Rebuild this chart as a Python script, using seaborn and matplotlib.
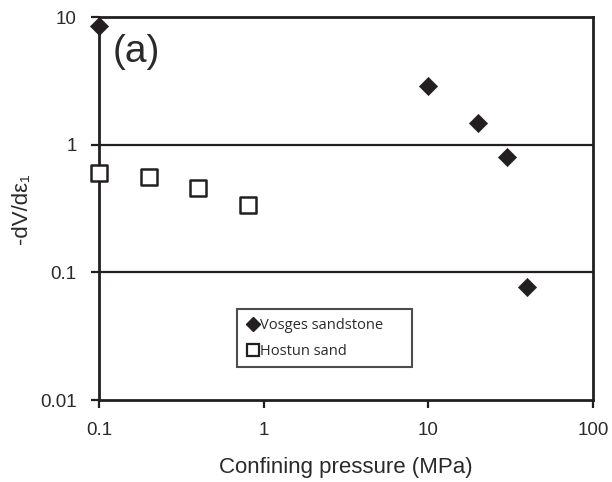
import matplotlib
matplotlib.use("Agg")
import matplotlib.pyplot as plt
import seaborn as sns
import pandas as pd
from matplotlib.lines import Line2D
from matplotlib.ticker import FixedLocator, FixedFormatter, NullLocator

# Volumetric dilatancy rate against confining pressure
vosges_pressure = [0.1, 10, 20, 30, 40]
vosges_rate = [8.5, 2.9, 1.48, 0.80, 0.077]
hostun_pressure = [0.1, 0.2, 0.4, 0.8]
hostun_rate = [0.60, 0.56, 0.46, 0.34]

x_ticks = [0.1, 1, 10, 100]
x_tick_labels = ["0.1", "1", "10", "100"]
y_ticks = [0.01, 0.1, 1, 10]
y_tick_labels = ["0.01", "0.1", "1", "10"]

sns.set_style("white")
plt.rcParams["font.family"] = ["Liberation Sans", "DejaVu Sans"]

df = pd.concat([
    pd.DataFrame({"p": vosges_pressure, "r": vosges_rate, "s": "Vosges sandstone"}),
    pd.DataFrame({"p": hostun_pressure, "r": hostun_rate, "s": "Hostun sand"}),
], ignore_index=True)

fig = plt.figure(figsize=(6.12, 4.82), dpi=100)
ax = fig.add_axes([0.1618, 0.170, 0.8072, 0.7947])

ink = "#231f20"
txt = "#2a2a2a"

ax.set_xscale("log")
ax.set_yscale("log")
ax.set_xlim(0.1, 100)
ax.set_ylim(0.01, 10)

# horizontal gridlines at the inner decades
for yv in [0.1, 1]:
    ax.axhline(yv, color=ink, lw=1.6, zorder=1)

sns.scatterplot(
    data=df[df.s == "Vosges sandstone"], x="p", y="r", ax=ax,
    marker="D", s=85, color=ink, edgecolor=ink, linewidth=0.5,
    legend=False, zorder=5, clip_on=False,
)
sns.scatterplot(
    data=df[df.s == "Hostun sand"], x="p", y="r", ax=ax,
    marker="s", s=120, facecolor="white", edgecolor=ink, linewidth=1.8,
    legend=False, zorder=5, clip_on=False,
)

for sp in ax.spines.values():
    sp.set_color(ink)
    sp.set_linewidth(2.0)

ax.xaxis.set_major_locator(FixedLocator(x_ticks))
ax.xaxis.set_major_formatter(FixedFormatter(x_tick_labels))
ax.xaxis.set_minor_locator(NullLocator())
ax.yaxis.set_major_locator(FixedLocator(y_ticks))
ax.yaxis.set_major_formatter(FixedFormatter(y_tick_labels))
ax.yaxis.set_minor_locator(NullLocator())
ax.tick_params(axis="both", which="major", direction="out", length=6, width=1.6,
               color=ink, labelsize=13.5, labelcolor=txt, bottom=True, left=True)
ax.tick_params(axis="x", pad=10)
ax.tick_params(axis="y", pad=10)

ax.set_xlabel("Confining pressure (MPa)", fontsize=16, color=txt, labelpad=13)
ax.set_ylabel("-dV/dε₁", fontsize=16, color=txt, labelpad=6)

ax.text(0.028, 0.955, "(a)", transform=ax.transAxes, fontsize=28,
        va="top", ha="left", color=txt)

handles = [
    Line2D([], [], ls="none", marker="D", markersize=7.5, color=ink,
           markeredgecolor=ink, label="Vosges sandstone"),
    Line2D([], [], ls="none", marker="s", markersize=8, markerfacecolor="white",
           markeredgecolor=ink, markeredgewidth=1.6, label="Hostun sand"),
]
leg = ax.legend(
    handles=handles, loc="upper left", bbox_to_anchor=(0.2794, 0.2376, 0.355, 0.0),
    mode="expand", frameon=True, fancybox=False, handletextpad=0.0,
    borderpad=0.6, labelspacing=0.75, handlelength=1.0, borderaxespad=0,
    prop={"family": ["Open Sans", "DejaVu Sans"], "size": 10.5},
)
leg.get_frame().set_edgecolor(ink)
leg.get_frame().set_linewidth(1.5)
leg.get_frame().set_boxstyle("square", pad=0)
for t in leg.get_texts():
    t.set_color(txt)

fig.savefig("out.png", dpi=100, facecolor="white")
